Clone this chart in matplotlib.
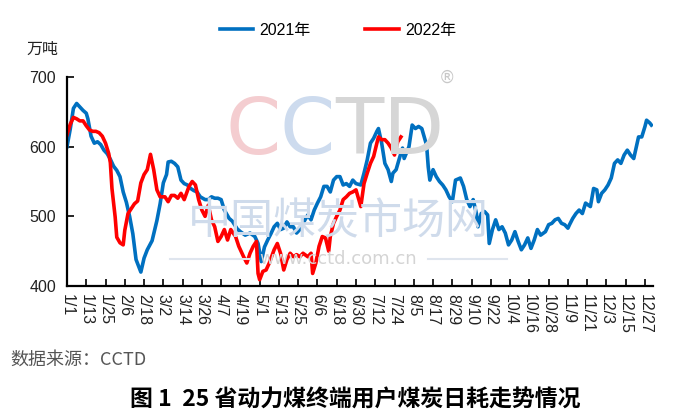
import matplotlib
matplotlib.use('Agg')
import matplotlib.pyplot as plt
from matplotlib.lines import Line2D

plt.rcParams['font.family'] = ['Liberation Sans', 'Noto Sans CJK SC', 'DejaVu Sans']

# day-of-year (0 = 1/1) and daily coal burn, 10k tonnes
days_2021 = [0, 2, 4, 6, 8, 10, 12, 13, 15, 17, 19, 21, 23, 25, 27, 29, 31, 33, 35, 37,
             39, 41, 43, 46, 48, 50, 53, 56, 58, 60, 62, 63, 65, 67, 69, 71, 73, 75, 77, 79,
             81, 83, 86, 88, 90, 92, 94, 96, 98, 101, 103, 106, 108, 111, 114, 117, 119, 121, 123, 125,
             127, 129, 131, 133, 135, 137, 139, 141, 143, 145, 147, 150, 152, 154, 156, 158, 160, 162, 164, 166,
             168, 170, 172, 174, 176, 178, 180, 183, 185, 187, 189, 191, 193, 194, 196, 198, 200, 202, 203, 205,
             207, 209, 210, 213, 215, 217, 219, 221, 223, 224, 225, 226, 228, 230, 232, 234, 236, 238, 240, 242,
             245, 247, 249, 251, 253, 255, 256, 258, 260, 262, 263, 265, 267, 269, 271, 273, 275, 277, 279, 281,
             283, 285, 287, 289, 291, 293, 295, 298, 300, 302, 304, 306, 308, 310, 312, 313, 315, 317, 319, 321,
             323, 326, 328, 330, 331, 333, 335, 337, 339, 341, 343, 345, 347, 349, 351, 353, 356, 358, 360, 361,
             363, 364]
vals_2021 = [600, 625, 655, 662, 657, 652, 648, 640, 615, 605, 607, 603, 595, 590, 582, 572, 566, 557, 535, 520,
             500, 475, 438, 420, 440, 452, 465, 494, 518, 548, 560, 578, 579, 576, 571, 552, 547, 545, 540, 537,
             535, 528, 524, 524, 528, 526, 526, 524, 509, 497, 493, 482, 478, 473, 476, 471, 461, 435, 456, 466,
             475, 485, 490, 481, 483, 492, 485, 485, 476, 481, 490, 502, 495, 509, 519, 528, 543, 543, 535, 552,
             557, 557, 545, 547, 543, 552, 547, 545, 562, 581, 605, 612, 622, 626, 605, 576, 567, 550, 562, 567,
             583, 598, 583, 600, 631, 626, 629, 626, 610, 602, 571, 552, 567, 557, 550, 545, 538, 528, 521, 552,
             555, 543, 524, 514, 524, 504, 485, 504, 507, 502, 461, 481, 495, 481, 485, 476, 459, 466, 478, 464,
             452, 459, 469, 454, 466, 481, 473, 478, 488, 490, 495, 497, 490, 488, 483, 488, 497, 504, 509, 504,
             519, 514, 540, 538, 521, 533, 538, 545, 555, 576, 581, 576, 588, 595, 588, 583, 614, 614, 629, 638,
             634, 631]

days_2022 = [0, 2, 4, 6, 8, 10, 12, 14, 16, 18, 20, 22, 24, 26, 27, 28, 30, 31, 33, 35,
             36, 38, 40, 42, 44, 46, 48, 50, 52, 54, 56, 58, 61, 63, 65, 67, 69, 71, 73, 76,
             78, 80, 82, 84, 86, 88, 90, 92, 94, 96, 98, 100, 102, 105, 107, 110, 112, 114, 116, 118,
             119, 120, 122, 124, 126, 129, 131, 133, 135, 137, 139, 141, 143, 145, 147, 150, 152, 153, 155, 157,
             159, 161, 163, 164, 166, 168, 170, 172, 174, 176, 178, 180, 183, 185, 187, 189, 191, 193, 194, 196,
             198, 200, 202, 204, 205, 206, 208]
vals_2022 = [617, 632, 642, 640, 637, 637, 630, 624, 622, 622, 620, 615, 605, 590, 577, 540, 499, 470, 462, 459,
             480, 504, 511, 518, 522, 548, 560, 567, 589, 567, 538, 528, 528, 521, 530, 530, 526, 533, 524, 543,
             550, 545, 524, 509, 500, 516, 495, 485, 464, 471, 481, 466, 481, 471, 457, 442, 433, 447, 457, 464,
             418, 409, 421, 423, 433, 452, 461, 447, 423, 438, 447, 442, 445, 442, 447, 442, 447, 418, 433, 457,
             471, 469, 450, 471, 490, 500, 509, 524, 528, 533, 535, 538, 514, 547, 562, 576, 586, 605, 614, 610,
             610, 605, 598, 588, 598, 607, 614]

tick_days = list(range(0, 361, 12))
tick_labels = ['1/1', '1/13', '1/25', '2/6', '2/18', '3/2', '3/14', '3/26', '4/7', '4/19',
               '5/1', '5/13', '5/25', '6/6', '6/18', '6/30', '7/12', '7/24', '8/5', '8/17',
               '8/29', '9/10', '9/22', '10/4', '10/16', '10/28', '11/9', '11/21', '12/3', '12/15',
               '12/27']

W, H = 678, 418
fig = plt.figure(figsize=(W / 100, H / 100), dpi=100)


def fx(px):
    return px / W


def fy(py):
    return 1 - py / H


# faint CCTD watermark behind the plot
wm = dict(ha='left', va='center', fontsize=57, family='DejaVu Sans', zorder=0)
fig.text(fx(226), fy(132), 'C', color='#f4cdd0', **wm)
fig.text(fx(280), fy(132), 'C', color='#cddbee', **wm)
fig.text(fx(335), fy(132), 'TD', color='#d6d6d6', **wm)
fig.text(fx(447), fy(78), '®', color='#c8c8c8', fontsize=12, ha='center', va='center',
         family='DejaVu Sans')
fig.text(fx(338), fy(222), '中国煤炭市场网', color='#cfdbeb', fontsize=31, ha='center',
         va='center', family='Noto Sans CJK SC')
fig.text(fx(338), fy(259), 'www.cctd.com.cn', color='#d4d4d4', fontsize=13, ha='center',
         va='center', family='DejaVu Sans')
for x0, x1 in [(170, 250), (428, 507)]:
    fig.add_artist(Line2D([fx(x0), fx(x1)], [fy(259), fy(259)], color='#dfe5ee', lw=1.5))

ax = fig.add_axes([fx(67), fy(286), fx(586), 209 / H])
ax.patch.set_alpha(0)

ax.plot(days_2021, vals_2021, color='#0070c0', lw=2.6, label='2021年', solid_joinstyle='round')
ax.plot(days_2022, vals_2022, color='#ff0000', lw=2.6, label='2022年', solid_joinstyle='round')

ax.set_xlim(0, 365)
ax.set_ylim(400, 700)
ax.set_yticks([400, 500, 600, 700])
ax.set_xticks(tick_days)
ax.set_xticklabels(tick_labels, rotation=-90, va='top', ha='center')

for side in ['top', 'right']:
    ax.spines[side].set_visible(False)
for side in ['left', 'bottom']:
    ax.spines[side].set_linewidth(1.6)
    ax.spines[side].set_color('black')
ax.tick_params(axis='x', direction='in', length=5, width=1.2, pad=6, labelsize=11.5,
               labelcolor='#222222')
ax.tick_params(axis='y', direction='in', length=5, width=1.2, pad=8, labelsize=11.5,
               labelcolor='#222222')

fig.text(fx(42), fy(49), '万吨', fontsize=11.5, ha='center', va='center',
         family='Noto Sans CJK SC', color='#222222')

fig.legend(loc='center', bbox_to_anchor=(fx(338), fy(30)), ncol=2, frameon=False,
           fontsize=11.5, handlelength=2.1, columnspacing=3.4, handletextpad=0.4)

fig.text(fx(10), fy(360), '数据来源：CCTD', fontsize=13, ha='left', va='center',
         family='Noto Sans CJK SC', color='#555555')
fig.text(fx(355), fy(400), '图 1  25 省动力煤终端用户煤炭日耗走势情况', fontsize=16.5,
         ha='center', va='center', family='Noto Sans CJK SC', weight='bold')

fig.savefig('out.png', dpi=100)
